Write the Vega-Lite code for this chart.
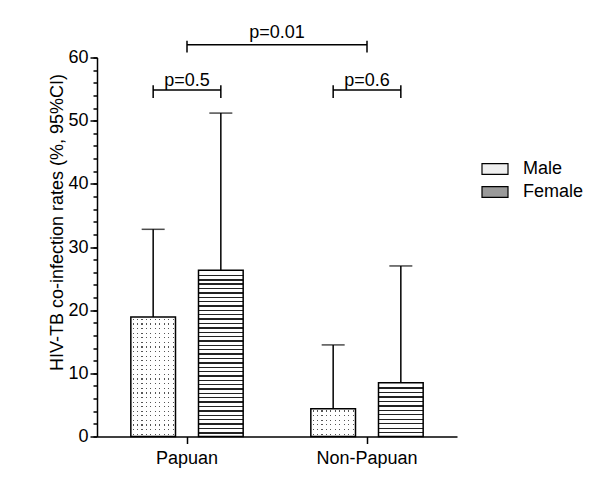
{
"$schema":"https://vega.github.io/schema/vega-lite/v6.json",
"width":360,"height":379,
"autosize":{"type":"none"},
"padding":{"left":97,"top":57.5,"right":143,"bottom":49.5},
"background":"white",
"config":{"view":{"stroke":null},"font":"Liberation Sans","text":{"font":"Liberation Sans"},
 "axisY":{"grid":false,"domainColor":"black","domainWidth":1.5,"tickColor":"black","tickWidth":1.5,"tickSize":7,"labelColor":"black","labelFontSize":18,"labelPadding":2,"titleFontSize":18,"titleFontWeight":"normal","titleColor":"black"},
 "axisX":{"labelAngle":0,"labelFontSize":18,"labelColor":"black","domainColor":"black","domainWidth":1.5,"tickColor":"black","tickWidth":1.5,"tickSize":7,"labelPadding":6,"grid":false}},
"datasets":{
"bars":[
{"group":"Papuan","sex":"Male","value":18.9,"upper":32.8},
{"group":"Papuan","sex":"Female","value":26.3,"upper":51.2},
{"group":"Non-Papuan","sex":"Male","value":4.4,"upper":14.5},
{"group":"Non-Papuan","sex":"Female","value":8.5,"upper":27.0}],
"brk1":[
{"bracket":"a","group":"Papuan","sex":"Male","y":55.6,"ord":1},
{"bracket":"a","group":"Papuan","sex":"Male","y":53.6,"ord":2},
{"bracket":"a","group":"Papuan","sex":"Male","y":54.85,"ord":3},
{"bracket":"a","group":"Papuan","sex":"Female","y":54.85,"ord":4},
{"bracket":"a","group":"Papuan","sex":"Female","y":55.6,"ord":5},
{"bracket":"a","group":"Papuan","sex":"Female","y":53.6,"ord":6},
{"bracket":"b","group":"Non-Papuan","sex":"Male","y":55.6,"ord":1},
{"bracket":"b","group":"Non-Papuan","sex":"Male","y":53.6,"ord":2},
{"bracket":"b","group":"Non-Papuan","sex":"Male","y":54.85,"ord":3},
{"bracket":"b","group":"Non-Papuan","sex":"Female","y":54.85,"ord":4},
{"bracket":"b","group":"Non-Papuan","sex":"Female","y":55.6,"ord":5},
{"bracket":"b","group":"Non-Papuan","sex":"Female","y":53.6,"ord":6}],
"brk2":[
{"group":"Papuan","y":62.65,"ord":1},
{"group":"Papuan","y":60.8,"ord":2},
{"group":"Papuan","y":62.0,"ord":3},
{"group":"Non-Papuan","y":62.0,"ord":4},
{"group":"Non-Papuan","y":62.65,"ord":5},
{"group":"Non-Papuan","y":60.8,"ord":6}],
"lbl":[
{"label":"p=0.5","group":"Papuan","y":55.5},
{"label":"p=0.6","group":"Non-Papuan","y":55.5}],
"lbl2":[{"label":"p=0.01","group":"Papuan","y":63.1}]
},
"resolve":{"scale":{"y":"independent"},"axis":{"y":"independent"}},
"layer":[
{"layer":[
{"data":{"name":"bars"},
 "mark":{"type":"square","opacity":0},
 "encoding":{
  "x":{"field":"group","type":"nominal","scale":{"domain":["Papuan","Non-Papuan"],"paddingInner":0,"paddingOuter":0},"axis":{"title":null}},
  "xOffset":{"field":"sex","type":"nominal","scale":{"domain":["Male","Female"],"paddingInner":0.34,"paddingOuter":0.5}},
  "y":{"field":"value","type":"quantitative","scale":{"domain":[0,60],"nice":false},
   "axis":{"title":"HIV-TB co-infection rates (%, 95%CI)","orient":"left","tickCount":6,
    "titleX":-40,"titleY":164.5,"titleBaseline":"middle","titleAlign":"center","titleAngle":270}},
  "fill":{"field":"sex","type":"nominal","scale":{"domain":["Male","Female"],"range":["#efefef","#9a9a9a"]},
   "legend":{"title":null,"orient":"none","legendX":384,"legendY":97.5,"symbolType":"M-1,-0.42H1V0.42H-1Z","symbolSize":676,
    "symbolStrokeColor":"black","symbolStrokeWidth":1.2,"symbolOpacity":1,"labelFontSize":18,"labelColor":"black","labelOffset":14,"rowPadding":0,"padding":0}}
 }},
{"data":{"name":"bars"},
 "transform":[{"filter":"datum.group === 'Papuan' && datum.sex === 'Female'"}],
 "mark":{"type":"bar","stroke":"black","strokeWidth":1.5,"fill":{"gradient":"linear","x1":0,"y1":0,"x2":0,"y2":1,"stops":[{"offset":0,"color":"#fff"},
{"offset":0.026,"color":"#fff"},{"offset":0.026,"color":"#222"},{"offset":0.034,"color":"#222"},{"offset":0.034,"color":"#fff"},
{"offset":0.053,"color":"#fff"},{"offset":0.053,"color":"#222"},{"offset":0.061,"color":"#222"},{"offset":0.061,"color":"#fff"},
{"offset":0.079,"color":"#fff"},{"offset":0.079,"color":"#222"},{"offset":0.087,"color":"#222"},{"offset":0.087,"color":"#fff"},
{"offset":0.105,"color":"#fff"},{"offset":0.105,"color":"#222"},{"offset":0.113,"color":"#222"},{"offset":0.113,"color":"#fff"},
{"offset":0.132,"color":"#fff"},{"offset":0.132,"color":"#222"},{"offset":0.140,"color":"#222"},{"offset":0.140,"color":"#fff"},
{"offset":0.158,"color":"#fff"},{"offset":0.158,"color":"#222"},{"offset":0.166,"color":"#222"},{"offset":0.166,"color":"#fff"},
{"offset":0.184,"color":"#fff"},{"offset":0.184,"color":"#222"},{"offset":0.192,"color":"#222"},{"offset":0.192,"color":"#fff"},
{"offset":0.211,"color":"#fff"},{"offset":0.211,"color":"#222"},{"offset":0.219,"color":"#222"},{"offset":0.219,"color":"#fff"},
{"offset":0.237,"color":"#fff"},{"offset":0.237,"color":"#222"},{"offset":0.245,"color":"#222"},{"offset":0.245,"color":"#fff"},
{"offset":0.263,"color":"#fff"},{"offset":0.263,"color":"#222"},{"offset":0.271,"color":"#222"},{"offset":0.271,"color":"#fff"},
{"offset":0.289,"color":"#fff"},{"offset":0.289,"color":"#222"},{"offset":0.297,"color":"#222"},{"offset":0.297,"color":"#fff"},
{"offset":0.316,"color":"#fff"},{"offset":0.316,"color":"#222"},{"offset":0.324,"color":"#222"},{"offset":0.324,"color":"#fff"},
{"offset":0.342,"color":"#fff"},{"offset":0.342,"color":"#222"},{"offset":0.350,"color":"#222"},{"offset":0.350,"color":"#fff"},
{"offset":0.368,"color":"#fff"},{"offset":0.368,"color":"#222"},{"offset":0.376,"color":"#222"},{"offset":0.376,"color":"#fff"},
{"offset":0.395,"color":"#fff"},{"offset":0.395,"color":"#222"},{"offset":0.403,"color":"#222"},{"offset":0.403,"color":"#fff"},
{"offset":0.421,"color":"#fff"},{"offset":0.421,"color":"#222"},{"offset":0.429,"color":"#222"},{"offset":0.429,"color":"#fff"},
{"offset":0.447,"color":"#fff"},{"offset":0.447,"color":"#222"},{"offset":0.455,"color":"#222"},{"offset":0.455,"color":"#fff"},
{"offset":0.474,"color":"#fff"},{"offset":0.474,"color":"#222"},{"offset":0.482,"color":"#222"},{"offset":0.482,"color":"#fff"},
{"offset":0.500,"color":"#fff"},{"offset":0.500,"color":"#222"},{"offset":0.508,"color":"#222"},{"offset":0.508,"color":"#fff"},
{"offset":0.526,"color":"#fff"},{"offset":0.526,"color":"#222"},{"offset":0.534,"color":"#222"},{"offset":0.534,"color":"#fff"},
{"offset":0.553,"color":"#fff"},{"offset":0.553,"color":"#222"},{"offset":0.561,"color":"#222"},{"offset":0.561,"color":"#fff"},
{"offset":0.579,"color":"#fff"},{"offset":0.579,"color":"#222"},{"offset":0.587,"color":"#222"},{"offset":0.587,"color":"#fff"},
{"offset":0.605,"color":"#fff"},{"offset":0.605,"color":"#222"},{"offset":0.613,"color":"#222"},{"offset":0.613,"color":"#fff"},
{"offset":0.632,"color":"#fff"},{"offset":0.632,"color":"#222"},{"offset":0.640,"color":"#222"},{"offset":0.640,"color":"#fff"},
{"offset":0.658,"color":"#fff"},{"offset":0.658,"color":"#222"},{"offset":0.666,"color":"#222"},{"offset":0.666,"color":"#fff"},
{"offset":0.684,"color":"#fff"},{"offset":0.684,"color":"#222"},{"offset":0.692,"color":"#222"},{"offset":0.692,"color":"#fff"},
{"offset":0.711,"color":"#fff"},{"offset":0.711,"color":"#222"},{"offset":0.719,"color":"#222"},{"offset":0.719,"color":"#fff"},
{"offset":0.737,"color":"#fff"},{"offset":0.737,"color":"#222"},{"offset":0.745,"color":"#222"},{"offset":0.745,"color":"#fff"},
{"offset":0.763,"color":"#fff"},{"offset":0.763,"color":"#222"},{"offset":0.771,"color":"#222"},{"offset":0.771,"color":"#fff"},
{"offset":0.789,"color":"#fff"},{"offset":0.789,"color":"#222"},{"offset":0.797,"color":"#222"},{"offset":0.797,"color":"#fff"},
{"offset":0.816,"color":"#fff"},{"offset":0.816,"color":"#222"},{"offset":0.824,"color":"#222"},{"offset":0.824,"color":"#fff"},
{"offset":0.842,"color":"#fff"},{"offset":0.842,"color":"#222"},{"offset":0.850,"color":"#222"},{"offset":0.850,"color":"#fff"},
{"offset":0.868,"color":"#fff"},{"offset":0.868,"color":"#222"},{"offset":0.876,"color":"#222"},{"offset":0.876,"color":"#fff"},
{"offset":0.895,"color":"#fff"},{"offset":0.895,"color":"#222"},{"offset":0.903,"color":"#222"},{"offset":0.903,"color":"#fff"},
{"offset":0.921,"color":"#fff"},{"offset":0.921,"color":"#222"},{"offset":0.929,"color":"#222"},{"offset":0.929,"color":"#fff"},
{"offset":0.947,"color":"#fff"},{"offset":0.947,"color":"#222"},{"offset":0.955,"color":"#222"},{"offset":0.955,"color":"#fff"},
{"offset":0.974,"color":"#fff"},{"offset":0.974,"color":"#222"},{"offset":0.982,"color":"#222"},{"offset":0.982,"color":"#fff"},
{"offset":1,"color":"#fff"}]}},
 "encoding":{"x":{"field":"group","type":"nominal"},"xOffset":{"field":"sex","type":"nominal"},"y":{"field":"value","type":"quantitative"}}},
{"data":{"name":"bars"},
 "transform":[{"filter":"datum.group === 'Non-Papuan' && datum.sex === 'Female'"}],
 "mark":{"type":"bar","stroke":"black","strokeWidth":1.5,"fill":{"gradient":"linear","x1":0,"y1":0,"x2":0,"y2":1,"stops":[{"offset":0,"color":"#fff"},
{"offset":0.083,"color":"#fff"},{"offset":0.083,"color":"#222"},{"offset":0.108,"color":"#222"},{"offset":0.108,"color":"#fff"},
{"offset":0.167,"color":"#fff"},{"offset":0.167,"color":"#222"},{"offset":0.192,"color":"#222"},{"offset":0.192,"color":"#fff"},
{"offset":0.25,"color":"#fff"},{"offset":0.25,"color":"#222"},{"offset":0.275,"color":"#222"},{"offset":0.275,"color":"#fff"},
{"offset":0.333,"color":"#fff"},{"offset":0.333,"color":"#222"},{"offset":0.358,"color":"#222"},{"offset":0.358,"color":"#fff"},
{"offset":0.417,"color":"#fff"},{"offset":0.417,"color":"#222"},{"offset":0.442,"color":"#222"},{"offset":0.442,"color":"#fff"},
{"offset":0.5,"color":"#fff"},{"offset":0.5,"color":"#222"},{"offset":0.525,"color":"#222"},{"offset":0.525,"color":"#fff"},
{"offset":0.583,"color":"#fff"},{"offset":0.583,"color":"#222"},{"offset":0.608,"color":"#222"},{"offset":0.608,"color":"#fff"},
{"offset":0.667,"color":"#fff"},{"offset":0.667,"color":"#222"},{"offset":0.692,"color":"#222"},{"offset":0.692,"color":"#fff"},
{"offset":0.75,"color":"#fff"},{"offset":0.75,"color":"#222"},{"offset":0.775,"color":"#222"},{"offset":0.775,"color":"#fff"},
{"offset":0.833,"color":"#fff"},{"offset":0.833,"color":"#222"},{"offset":0.858,"color":"#222"},{"offset":0.858,"color":"#fff"},
{"offset":0.917,"color":"#fff"},{"offset":0.917,"color":"#222"},{"offset":0.942,"color":"#222"},{"offset":0.942,"color":"#fff"},
{"offset":1,"color":"#fff"}]}},
 "encoding":{"x":{"field":"group","type":"nominal"},"xOffset":{"field":"sex","type":"nominal"},"y":{"field":"value","type":"quantitative"}}},
{"data":{"name":"bars"},
 "transform":[{"filter":"datum.group === 'Papuan' && datum.sex === 'Male'"}],
 "mark":{"type":"bar","strokeWidth":0,"fill":{"gradient":"linear","x1":0,"y1":0,"x2":0,"y2":1,"stops":[{"offset":0,"color":"#fff"},
{"offset":0.014,"color":"#fff"},{"offset":0.014,"color":"#555"},{"offset":0.024,"color":"#555"},{"offset":0.024,"color":"#fff"},
{"offset":0.053,"color":"#fff"},{"offset":0.053,"color":"#555"},{"offset":0.063,"color":"#555"},{"offset":0.063,"color":"#fff"},
{"offset":0.091,"color":"#fff"},{"offset":0.091,"color":"#555"},{"offset":0.101,"color":"#555"},{"offset":0.101,"color":"#fff"},
{"offset":0.130,"color":"#fff"},{"offset":0.130,"color":"#555"},{"offset":0.140,"color":"#555"},{"offset":0.140,"color":"#fff"},
{"offset":0.168,"color":"#fff"},{"offset":0.168,"color":"#555"},{"offset":0.178,"color":"#555"},{"offset":0.178,"color":"#fff"},
{"offset":0.207,"color":"#fff"},{"offset":0.207,"color":"#555"},{"offset":0.217,"color":"#555"},{"offset":0.217,"color":"#fff"},
{"offset":0.245,"color":"#fff"},{"offset":0.245,"color":"#555"},{"offset":0.255,"color":"#555"},{"offset":0.255,"color":"#fff"},
{"offset":0.284,"color":"#fff"},{"offset":0.284,"color":"#555"},{"offset":0.294,"color":"#555"},{"offset":0.294,"color":"#fff"},
{"offset":0.322,"color":"#fff"},{"offset":0.322,"color":"#555"},{"offset":0.332,"color":"#555"},{"offset":0.332,"color":"#fff"},
{"offset":0.360,"color":"#fff"},{"offset":0.360,"color":"#555"},{"offset":0.370,"color":"#555"},{"offset":0.370,"color":"#fff"},
{"offset":0.399,"color":"#fff"},{"offset":0.399,"color":"#555"},{"offset":0.409,"color":"#555"},{"offset":0.409,"color":"#fff"},
{"offset":0.437,"color":"#fff"},{"offset":0.437,"color":"#555"},{"offset":0.447,"color":"#555"},{"offset":0.447,"color":"#fff"},
{"offset":0.476,"color":"#fff"},{"offset":0.476,"color":"#555"},{"offset":0.486,"color":"#555"},{"offset":0.486,"color":"#fff"},
{"offset":0.514,"color":"#fff"},{"offset":0.514,"color":"#555"},{"offset":0.524,"color":"#555"},{"offset":0.524,"color":"#fff"},
{"offset":0.553,"color":"#fff"},{"offset":0.553,"color":"#555"},{"offset":0.563,"color":"#555"},{"offset":0.563,"color":"#fff"},
{"offset":0.591,"color":"#fff"},{"offset":0.591,"color":"#555"},{"offset":0.601,"color":"#555"},{"offset":0.601,"color":"#fff"},
{"offset":0.630,"color":"#fff"},{"offset":0.630,"color":"#555"},{"offset":0.640,"color":"#555"},{"offset":0.640,"color":"#fff"},
{"offset":0.668,"color":"#fff"},{"offset":0.668,"color":"#555"},{"offset":0.678,"color":"#555"},{"offset":0.678,"color":"#fff"},
{"offset":0.707,"color":"#fff"},{"offset":0.707,"color":"#555"},{"offset":0.717,"color":"#555"},{"offset":0.717,"color":"#fff"},
{"offset":0.745,"color":"#fff"},{"offset":0.745,"color":"#555"},{"offset":0.755,"color":"#555"},{"offset":0.755,"color":"#fff"},
{"offset":0.784,"color":"#fff"},{"offset":0.784,"color":"#555"},{"offset":0.794,"color":"#555"},{"offset":0.794,"color":"#fff"},
{"offset":0.822,"color":"#fff"},{"offset":0.822,"color":"#555"},{"offset":0.832,"color":"#555"},{"offset":0.832,"color":"#fff"},
{"offset":0.860,"color":"#fff"},{"offset":0.860,"color":"#555"},{"offset":0.870,"color":"#555"},{"offset":0.870,"color":"#fff"},
{"offset":0.899,"color":"#fff"},{"offset":0.899,"color":"#555"},{"offset":0.909,"color":"#555"},{"offset":0.909,"color":"#fff"},
{"offset":0.937,"color":"#fff"},{"offset":0.937,"color":"#555"},{"offset":0.947,"color":"#555"},{"offset":0.947,"color":"#fff"},
{"offset":0.976,"color":"#fff"},{"offset":0.976,"color":"#555"},{"offset":0.986,"color":"#555"},{"offset":0.986,"color":"#fff"},
{"offset":1,"color":"#fff"}]}},
 "encoding":{"x":{"field":"group","type":"nominal"},"xOffset":{"field":"sex","type":"nominal"},"y":{"field":"value","type":"quantitative"}}},
{"data":{"name":"bars"},
 "transform":[{"filter":"datum.group === 'Non-Papuan' && datum.sex === 'Male'"}],
 "mark":{"type":"bar","strokeWidth":0,"fill":{"gradient":"linear","x1":0,"y1":0,"x2":0,"y2":1,"stops":[{"offset":0,"color":"#fff"},
{"offset":0.063,"color":"#fff"},{"offset":0.063,"color":"#555"},{"offset":0.103,"color":"#555"},{"offset":0.103,"color":"#fff"},
{"offset":0.23,"color":"#fff"},{"offset":0.23,"color":"#555"},{"offset":0.27,"color":"#555"},{"offset":0.27,"color":"#fff"},
{"offset":0.397,"color":"#fff"},{"offset":0.397,"color":"#555"},{"offset":0.437,"color":"#555"},{"offset":0.437,"color":"#fff"},
{"offset":0.563,"color":"#fff"},{"offset":0.563,"color":"#555"},{"offset":0.603,"color":"#555"},{"offset":0.603,"color":"#fff"},
{"offset":0.73,"color":"#fff"},{"offset":0.73,"color":"#555"},{"offset":0.77,"color":"#555"},{"offset":0.77,"color":"#fff"},
{"offset":0.897,"color":"#fff"},{"offset":0.897,"color":"#555"},{"offset":0.937,"color":"#555"},{"offset":0.937,"color":"#fff"},
{"offset":1,"color":"#fff"}]}},
 "encoding":{"x":{"field":"group","type":"nominal"},"xOffset":{"field":"sex","type":"nominal"},"y":{"field":"value","type":"quantitative"}}},
{"data":{"name":"bars"},
 "transform":[{"filter":"datum.sex === 'Male'"}],
 "mark":{"type":"bar","stroke":"black","strokeWidth":1.5,"fill":{"gradient":"linear","x1":0,"y1":0,"x2":1,"y2":0,"stops":[{"offset":0,"color":"#fff"},
{"offset":0.0375,"color":"#fff"},{"offset":0.0375,"color":"rgba(255,255,255,0)"},{"offset":0.0625,"color":"rgba(255,255,255,0)"},{"offset":0.0625,"color":"#fff"},
{"offset":0.1375,"color":"#fff"},{"offset":0.1375,"color":"rgba(255,255,255,0)"},{"offset":0.1625,"color":"rgba(255,255,255,0)"},{"offset":0.1625,"color":"#fff"},
{"offset":0.2375,"color":"#fff"},{"offset":0.2375,"color":"rgba(255,255,255,0)"},{"offset":0.2625,"color":"rgba(255,255,255,0)"},{"offset":0.2625,"color":"#fff"},
{"offset":0.3375,"color":"#fff"},{"offset":0.3375,"color":"rgba(255,255,255,0)"},{"offset":0.3625,"color":"rgba(255,255,255,0)"},{"offset":0.3625,"color":"#fff"},
{"offset":0.4375,"color":"#fff"},{"offset":0.4375,"color":"rgba(255,255,255,0)"},{"offset":0.4625,"color":"rgba(255,255,255,0)"},{"offset":0.4625,"color":"#fff"},
{"offset":0.5375,"color":"#fff"},{"offset":0.5375,"color":"rgba(255,255,255,0)"},{"offset":0.5625,"color":"rgba(255,255,255,0)"},{"offset":0.5625,"color":"#fff"},
{"offset":0.6375,"color":"#fff"},{"offset":0.6375,"color":"rgba(255,255,255,0)"},{"offset":0.6625,"color":"rgba(255,255,255,0)"},{"offset":0.6625,"color":"#fff"},
{"offset":0.7375,"color":"#fff"},{"offset":0.7375,"color":"rgba(255,255,255,0)"},{"offset":0.7625,"color":"rgba(255,255,255,0)"},{"offset":0.7625,"color":"#fff"},
{"offset":0.8375,"color":"#fff"},{"offset":0.8375,"color":"rgba(255,255,255,0)"},{"offset":0.8625,"color":"rgba(255,255,255,0)"},{"offset":0.8625,"color":"#fff"},
{"offset":0.9375,"color":"#fff"},{"offset":0.9375,"color":"rgba(255,255,255,0)"},{"offset":0.9625,"color":"rgba(255,255,255,0)"},{"offset":0.9625,"color":"#fff"},
{"offset":1,"color":"#fff"}]}},
 "encoding":{"x":{"field":"group","type":"nominal"},"xOffset":{"field":"sex","type":"nominal"},"y":{"field":"value","type":"quantitative"}}},
{"data":{"name":"bars"},
 "mark":{"type":"rule","color":"black","strokeWidth":1.5},
 "encoding":{"x":{"field":"group","type":"nominal"},"xOffset":{"field":"sex","type":"nominal"},"y":{"field":"value","type":"quantitative"},"y2":{"field":"upper"}}},
{"data":{"name":"bars"},
 "mark":{"type":"tick","color":"black","size":23,"thickness":1.5},
 "encoding":{"x":{"field":"group","type":"nominal"},"xOffset":{"field":"sex","type":"nominal"},"y":{"field":"upper","type":"quantitative"}}},
{"data":{"name":"brk1"},
 "mark":{"type":"line","color":"black","strokeWidth":1.5},
 "encoding":{"x":{"field":"group","type":"nominal"},"xOffset":{"field":"sex","type":"nominal"},"y":{"field":"y","type":"quantitative"},"detail":{"field":"bracket"},"order":{"field":"ord","type":"quantitative"}}},
{"data":{"name":"brk2"},
 "mark":{"type":"line","color":"black","strokeWidth":1.5},
 "encoding":{"x":{"field":"group","type":"nominal"},"y":{"field":"y","type":"quantitative"},"order":{"field":"ord","type":"quantitative"}}},
{"data":{"name":"lbl"},
 "mark":{"type":"text","fontSize":18,"color":"black","baseline":"alphabetic","align":"center"},
 "encoding":{"x":{"field":"group","type":"nominal"},"y":{"field":"y","type":"quantitative"},"text":{"field":"label"}}},
{"data":{"name":"lbl2"},
 "mark":{"type":"text","fontSize":18,"color":"black","baseline":"alphabetic","align":"center"},
 "encoding":{"x":{"field":"group","type":"nominal","bandPosition":1},"y":{"field":"y","type":"quantitative"},"text":{"field":"label"}}}
]},
{"data":{"name":"bars"},
 "mark":{"type":"square","opacity":0},
 "encoding":{
  "x":{"field":"group","type":"nominal"},
  "y":{"field":"value","type":"quantitative","scale":{"domain":[0,60],"nice":false},
   "axis":{"orient":"left","title":null,"labels":false,"domain":false,"tickCount":30,"tickSize":4,"tickColor":"black","tickWidth":1.5}}}}
]
}
